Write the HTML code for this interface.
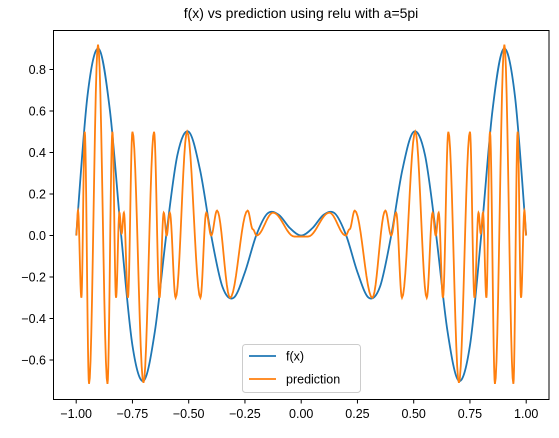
<!DOCTYPE html>
<html><head><meta charset="utf-8"><style>
body{margin:0;background:#fff;}
svg text{font-family:"Liberation Sans","DejaVu Sans",sans-serif;fill:#000;}
</style></head><body>
<svg id="chart" width="559" height="433" viewBox="0 0 559 433" xmlns="http://www.w3.org/2000/svg">
<text x="301" y="18" font-size="14" text-anchor="middle">f(x) vs prediction using relu with a=5pi</text>
<g id="grid"></g>
<path id="fx-line" fill="none" stroke="#1f77b4" stroke-width="1.8"/>
<path id="pred-line" fill="none" stroke="#ff7f0e" stroke-width="1.8"/>
<rect x="53.5" y="30.5" width="495.5" height="369" fill="none" stroke="#000" stroke-width="1"/>
<g id="axes"></g>
<g>
<rect x="242.5" y="344.5" width="118" height="48" rx="3" fill="#fff" fill-opacity="0.8" stroke="#ccc"/>
<line x1="249" y1="356" x2="276" y2="356" stroke="#1f77b4" stroke-width="1.8"/>
<text x="286" y="360.5" font-size="12.5">f(x)</text>
<line x1="249" y1="379" x2="276" y2="379" stroke="#ff7f0e" stroke-width="1.8"/>
<text x="286" y="383.5" font-size="12.5">prediction</text>
</g>
</svg>
<script>
const fxX = [-1,-0.95,-0.9,-0.85,-0.8,-0.75,-0.7,-0.65,-0.6,-0.55,-0.5,-0.45,-0.4,-0.35,-0.3,-0.25,-0.2,-0.15,-0.1,-0.05,0,0.05,0.1,0.15,0.2,0.25,0.3,0.35,0.4,0.45,0.5,0.55,0.6,0.65,0.7,0.75,0.8,0.85,0.9,0.95,1];
const fxY = [0,0.6718,0.9,0.601,0,-0.5303,-0.7,-0.4596,0,0.3889,0.5,0.3182,0,-0.2475,-0.3,-0.1768,0,0.1061,0.1,0.0354,0,0.0354,0.1,0.1061,0,-0.1768,-0.3,-0.2475,0,0.3182,0.5,0.3889,0,-0.4596,-0.7,-0.5303,0,0.601,0.9,0.6718,0];
const predX = [-1,-0.992,-0.977,-0.962,-0.943,-0.903,-0.861,-0.839,-0.823,-0.808,-0.798,-0.788,-0.770,-0.750,-0.701,-0.654,-0.630,-0.611,-0.598,-0.584,-0.558,-0.507,-0.448,-0.422,-0.400,-0.374,-0.316,-0.238,-0.215,-0.198,-0.125,-0.03,0.03,0.125,0.198,0.215,0.238,0.316,0.374,0.400,0.422,0.448,0.507,0.558,0.584,0.598,0.611,0.630,0.654,0.701,0.750,0.770,0.788,0.798,0.808,0.823,0.839,0.861,0.903,0.943,0.962,0.977,0.992,1];
const predY = [0,0.12,-0.30,0.50,-0.715,0.92,-0.715,0.50,-0.30,0.11,0.01,0.11,-0.30,0.50,-0.71,0.50,-0.30,0.11,0,0.11,-0.30,0.50,-0.30,0.11,0.0,0.12,-0.30,0.12,0.03,0.0,0.11,-0.005,-0.005,0.11,0.0,0.03,0.12,-0.30,0.12,0.0,0.11,-0.30,0.50,-0.30,0.11,0,0.11,-0.30,0.50,-0.71,0.50,-0.30,0.11,0.01,0.11,-0.30,0.50,-0.715,0.92,-0.715,0.50,-0.30,0.12,0];
const xTicks = [-1,-0.75,-0.5,-0.25,0,0.25,0.5,0.75,1];
const xTickLabels = ["−1.00","−0.75","−0.50","−0.25","0.00","0.25","0.50","0.75","1.00"];
const yTicks = [-0.6,-0.4,-0.2,0,0.2,0.4,0.6,0.8];
const yTickLabels = ["−0.6","−0.4","−0.2","0.0","0.2","0.4","0.6","0.8"];

const NS="http://www.w3.org/2000/svg";
function sx(v){return 301.2+v*225;}
function sy(v){return 235.5-v*207.5;}

(function(){
  let d="M"+sx(fxX[0])+","+sy(fxY[0]);
  for(let i=0;i<fxX.length-1;i++){
    const p0=[sx(fxX[Math.max(i-1,0)]),sy(fxY[Math.max(i-1,0)])];
    const p1=[sx(fxX[i]),sy(fxY[i])];
    const p2=[sx(fxX[i+1]),sy(fxY[i+1])];
    const p3=[sx(fxX[Math.min(i+2,fxX.length-1)]),sy(fxY[Math.min(i+2,fxX.length-1)])];
    const c1=[p1[0]+(p2[0]-p0[0])/6,p1[1]+(p2[1]-p0[1])/6];
    const c2=[p2[0]-(p3[0]-p1[0])/6,p2[1]-(p3[1]-p1[1])/6];
    d+=" C"+c1[0].toFixed(2)+","+c1[1].toFixed(2)+" "+c2[0].toFixed(2)+","+c2[1].toFixed(2)+" "+p2[0].toFixed(2)+","+p2[1].toFixed(2);
  }
  document.getElementById('fx-line').setAttribute('d',d);
})();
(function(){
  let d="M"+sx(predX[0]).toFixed(2)+","+sy(predY[0]).toFixed(2);
  for(let i=0;i<predX.length-1;i++){
    const n=12;
    for(let k=1;k<=n;k++){
      const t=k/n, s=(1-Math.cos(Math.PI*t))/2;
      const x=predX[i]+(predX[i+1]-predX[i])*t;
      const y=predY[i]+(predY[i+1]-predY[i])*s;
      d+=" L"+sx(x).toFixed(2)+","+sy(y).toFixed(2);
    }
  }
  document.getElementById('pred-line').setAttribute('d',d);
})();
(function(){
  const g=document.getElementById('axes');
  xTicks.forEach((v,i)=>{
    const l=document.createElementNS(NS,'line');
    
    
    l.setAttribute('x1',sx(v));l.setAttribute('x2',sx(v));l.setAttribute('y1',399.5);l.setAttribute('y2',403.5);l.setAttribute('stroke','#000');
    g.appendChild(l);
    const t=document.createElementNS(NS,'text');
    
    
    t.setAttribute('x',sx(v));t.setAttribute('y',418);t.setAttribute('font-size','12.5');t.setAttribute('text-anchor','middle');
    t.textContent=xTickLabels[i];g.appendChild(t);
  });
  yTicks.forEach((v,i)=>{
    const l=document.createElementNS(NS,'line');
    
    
    l.setAttribute('x1',49.5);l.setAttribute('x2',53.5);l.setAttribute('y1',sy(v));l.setAttribute('y2',sy(v));l.setAttribute('stroke','#000');
    g.appendChild(l);
    const t=document.createElementNS(NS,'text');
    
    
    t.setAttribute('x',46);t.setAttribute('y',sy(v)+4.5);t.setAttribute('font-size','12.5');t.setAttribute('text-anchor','end');
    t.textContent=yTickLabels[i];g.appendChild(t);
  });
})();
</script>
</body></html>
